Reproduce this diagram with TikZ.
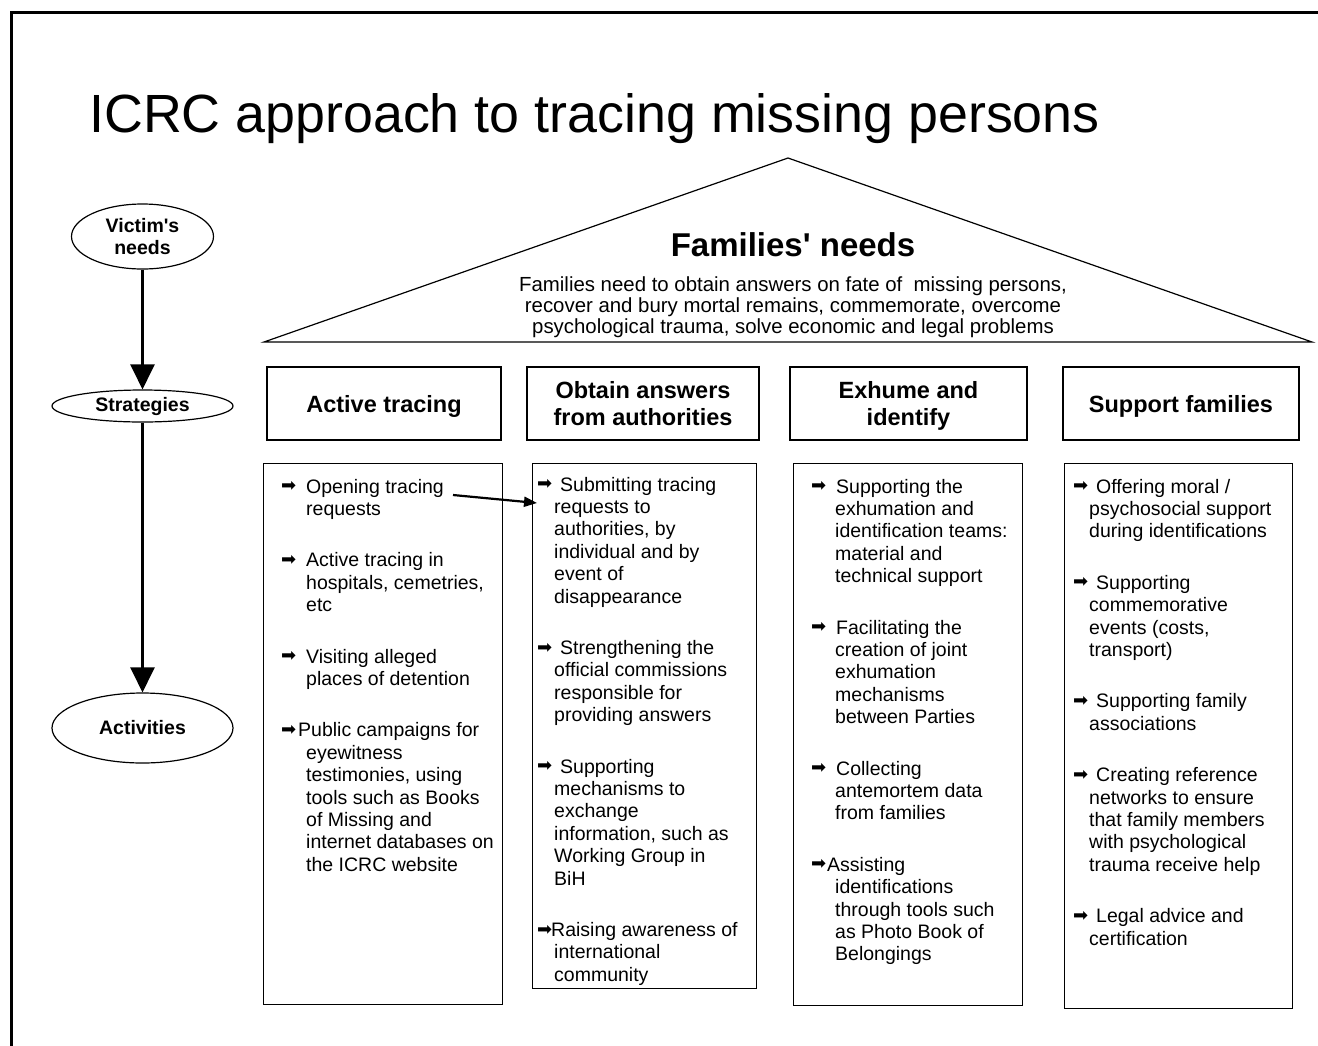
\documentclass[tikz,border=0pt]{standalone}
\usepackage{fontspec}
\setmainfont{Liberation Sans}[Ligatures=TeXOff]
\newfontfamily\symfont{DejaVu Sans}
\usetikzlibrary{shapes.geometric, arrows.meta, positioning}

\newlength{\actindent}
\newcommand{\bul}[1]{\makebox[#1][l]{\raisebox{1.5pt}{\symfont\fontsize{18}{18}\selectfont ➡}}}
\newcommand{\actitem}[1]{\hangindent=\actindent\hangafter=1\strut#1\par\vspace{29pt}}

\begin{document}
\begin{tikzpicture}[x=1pt, y=-1pt,
    needs/.style={draw, ellipse, line width=1.2pt, inner sep=0pt, align=center, font=\bfseries\fontsize{19.5}{22}\selectfont},
    stratbox/.style={draw, line width=2.7pt, minimum height=73pt, inner sep=0pt, text depth=0pt, align=center, font=\bfseries\fontsize{23.5}{27}\selectfont},
    actbox/.style={draw, line width=1.4pt, anchor=north west, inner sep=0pt},
    acttext/.style={anchor=north west, inner sep=0pt, font=\fontsize{19.5}{22.4}\selectfont},
    bigarrow/.style={line width=2.7pt, -{Triangle[width=24pt,length=25pt]}}
]
\useasboundingbox (0,0) rectangle (1318,1045);

% Frame
\draw[line width=3.3pt] (11.5,1050) -- (11.5,12.5) -- (1325,12.5);

% Title
\node[anchor=base west, inner sep=0pt, font=\fontsize{53.8}{60}\selectfont] (title) at (89,132) {ICRC approach to tracing missing persons};

% Roof
\draw[line width=1.2pt] (264,342) -- (788,158) -- (1312,342) -- cycle;
\node[anchor=base, inner sep=0pt, font=\bfseries\fontsize{33}{36}\selectfont] (famneeds) at (793,256) {Families' needs};
\node[anchor=north, inner sep=0pt, align=center, font=\fontsize{20.4}{21}\selectfont] (famtext) at (793,276.5) {Families need to obtain answers on fate of~ missing persons,\\recover and bury mortal remains, commemorate, overcome\\psychological trauma, solve economic and legal problems};

% Strategies
\node[stratbox, minimum width=234pt] (active) at (384,403.5) {Active tracing};
\node[stratbox, minimum width=232pt] (obtain) at (643,403.5) {Obtain answers\\from authorities};
\node[stratbox, minimum width=237pt] (exhume) at (908.5,403.5) {Exhume and\\identify};
\node[stratbox, minimum width=236pt] (support) at (1181,403.5) {Support families};

% Left column
\node[needs, minimum width=142pt, minimum height=65pt] (victim) at (142.5,236.5) {Victim's\\needs};
\node[needs, minimum width=181pt, minimum height=32pt] (strat) at (142.5,406) {Strategies};
\node[needs, minimum width=181pt, minimum height=70pt] (activ) at (142.5,728) {Activities};
\draw[bigarrow] (victim.south) -- (strat.north);
\draw[bigarrow] (strat.south) -- (activ.north);

% Activities
\node[actbox, minimum width=239pt, minimum height=541pt] (act1) at (263,463) {};
\node[actbox, minimum width=224pt, minimum height=525pt] (act2) at (532,463) {};
\node[actbox, minimum width=229pt, minimum height=542pt] (act3) at (793,463) {};
\node[actbox, minimum width=228pt, minimum height=545pt] (act4) at (1064,463) {};

\node[acttext] (list1) at ([xshift=18pt, yshift=-14.3pt]act1.north west) {\parbox[t]{225pt}{\setlength{\actindent}{25pt}
  \actitem{\bul{25pt}Opening tracing\\requests}
  \actitem{\bul{25pt}Active tracing in\\hospitals, cemetries,\\etc}
  \actitem{\bul{25pt}Visiting alleged\\places of detention}
  \actitem{\bul{17pt}Public campaigns for\\eyewitness\\testimonies, using\\tools such as Books\\of Missing and\\internet databases on\\the ICRC website}}};

\node[acttext] (list2) at ([xshift=5pt, yshift=-12.3pt]act2.north west) {\parbox[t]{225pt}{\setlength{\actindent}{17pt}
  \actitem{\bul{23pt}Submitting tracing\\requests to\\authorities, by\\individual and by\\event of\\disappearance}
  \actitem{\bul{23pt}Strengthening the\\official commissions\\responsible for\\providing answers}
  \actitem{\bul{23pt}Supporting\\mechanisms to\\exchange\\information, such as\\Working Group in\\BiH}
  \actitem{\bul{14pt}Raising awareness of\\international\\community}}};

\node[acttext] (list3) at ([xshift=18pt, yshift=-14.3pt]act3.north west) {\parbox[t]{225pt}{\setlength{\actindent}{24pt}
  \actitem{\bul{25pt}Supporting the\\exhumation and\\identification teams:\\material and\\technical support}
  \actitem{\bul{25pt}Facilitating the\\creation of joint\\exhumation\\mechanisms\\between Parties}
  \actitem{\bul{25pt}Collecting\\antemortem data\\from families}
  \actitem{\bul{16pt}Assisting\\identifications\\through tools such\\as Photo Book of\\Belongings}}};

\node[acttext] (list4) at ([xshift=9pt, yshift=-14.3pt]act4.north west) {\parbox[t]{225pt}{\setlength{\actindent}{16pt}
  \actitem{\bul{23pt}Offering moral /\\psychosocial support\\during identifications}
  \actitem{\bul{23pt}Supporting\\commemorative\\events (costs,\\transport)}
  \actitem{\bul{23pt}Supporting family\\associations}
  \actitem{\bul{23pt}Creating reference\\networks to ensure\\that family members\\with psychological\\trauma receive help}
  \actitem{\bul{23pt}Legal advice and\\certification}}};

% Link between lists
\coordinate (openend) at (453,495);
\coordinate (reqin) at (537,503);
\draw[line width=2.2pt, -{Triangle[width=10pt,length=13pt]}] (openend) -- (reqin);

\end{tikzpicture}
\end{document}
